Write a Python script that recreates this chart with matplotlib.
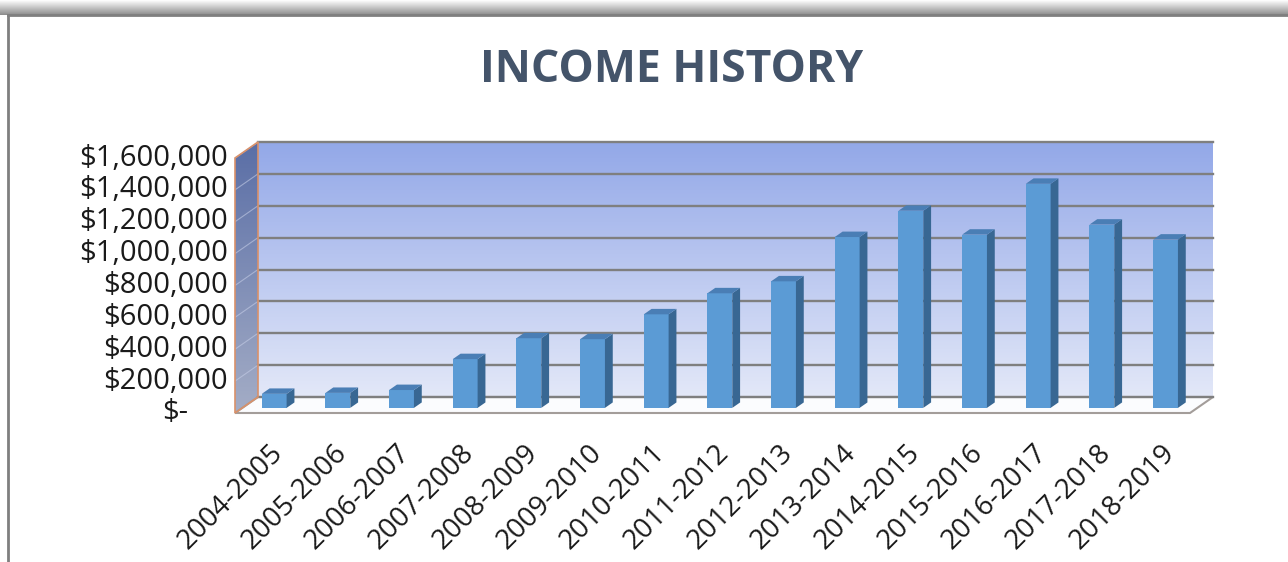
import matplotlib
matplotlib.use('Agg')
import numpy as np
import matplotlib.pyplot as plt
import matplotlib.transforms as mtransforms
from matplotlib.patches import Polygon
from matplotlib.colors import LinearSegmentedColormap

# данные
years = ['2004-2005', '2005-2006', '2006-2007', '2007-2008', '2008-2009',
         '2009-2010', '2010-2011', '2011-2012', '2012-2013', '2013-2014',
         '2014-2015', '2015-2016', '2016-2017', '2017-2018', '2018-2019']
income = [88000, 94000, 112000, 306000, 437000, 431000, 587000, 719000,
          794000, 1072000, 1237000, 1087000, 1406000, 1150000, 1056000]
y_ticks = [0, 200000, 400000, 600000, 800000, 1000000, 1200000, 1400000, 1600000]
y_labels = ['$-', '$200,000', '$400,000', '$600,000', '$800,000',
            '$1,000,000', '$1,200,000', '$1,400,000', '$1,600,000']

plt.rcParams['font.family'] = ['Open Sans', 'DejaVu Sans']

W, H = 1288, 562
fig = plt.figure(figsize=(W / 100, H / 100), dpi=100)
fig.patch.set_facecolor('white')

# фон в пикселях
bg = fig.add_axes([0, 0, 1, 1])
bg.axis('off')

# ось с масштабом данных (задняя стенка)
ax = fig.add_axes([258 / W, (H - 397) / H, 955 / W, 255 / H])
ax.set_xlim(-0.5, len(years) - 0.5)
ax.set_ylim(0, 1600000)
ax.axis('off')

DX, DY = -23, -16   # смещение глубины (передний край)


def pt(x, y, d):
    X, Y = ax.transData.transform((x, y))
    return X + d * DX, Y + d * DY


x0, y0 = pt(-0.5, 0, 0)
x1, y1 = pt(len(years) - 0.5, 1600000, 0)

# рамка и тень сверху
shadow = np.linspace(0, 1, 50).reshape(-1, 1)
bg.imshow(shadow, extent=[0, W, H - 15, H], aspect='auto',
          cmap=LinearSegmentedColormap.from_list('sh', ['#8c8c8c', '#ffffff']),
          origin='lower', zorder=0)
bg.plot([8, W], [H - 15, H - 15], color='#7f7f7f', lw=2, zorder=1)
bg.plot([8, 8], [0, H - 15], color='#7f7f7f', lw=2, zorder=1)

# задняя стенка
grad = np.linspace(0, 1, 256).reshape(-1, 1)
wall_cmap = LinearSegmentedColormap.from_list('wall', ['#e3e8f8', '#93a8e8'])
bg.imshow(grad, extent=[x0, x1, y0, y1], aspect='auto', cmap=wall_cmap,
          origin='lower', zorder=1)

# левая стенка
lw_poly = Polygon([pt(-0.5, 0, 0), pt(-0.5, 1600000, 0), pt(-0.5, 1600000, 1),
                   pt(-0.5, 0, 1)], closed=True, facecolor='none',
                  edgecolor='#d9916a', lw=1.2, zorder=3)
bg.add_patch(lw_poly)
side_cmap = LinearSegmentedColormap.from_list('side', ['#a4adc6', '#5a6ea6'])
im = bg.imshow(grad, extent=[x0 + DX, x0, y0 + DY, y1], aspect='auto',
               cmap=side_cmap, origin='lower', zorder=2)
im.set_clip_path(lw_poly)

# пол
floor = Polygon([pt(-0.5, 0, 0), pt(len(years) - 0.5, 0, 0),
                 pt(len(years) - 0.5, 0, 1), pt(-0.5, 0, 1)], closed=True,
                facecolor='#fbfcfe', edgecolor='#a39d9a', lw=1.5, zorder=2)
bg.add_patch(floor)

# линии сетки
for t in y_ticks:
    a = pt(-0.5, t, 0)
    b = pt(len(years) - 0.5, t, 0)
    bg.plot([a[0], b[0]], [a[1], b[1]], color='#7f7f7f', lw=1.7, zorder=2.5)
    if t > 0:
        c = pt(-0.5, t, 1)
        bg.plot([c[0], a[0]], [c[1], a[1]], color='#c5cde6', lw=0.8,
                alpha=0.6, zorder=2.6)

bg.set_xlim(0, W)
bg.set_ylim(0, H)

# столбцы
w = 0.39
df, db = 0.68, 0.34
front = mtransforms.offset_copy(ax.transData, fig=fig, x=df * DX, y=df * DY,
                                units='dots')
x = np.arange(len(years))
ax.bar(x, income, width=w, color='#5b9bd5', transform=front, clip_on=False,
       zorder=3)
for i, v in enumerate(income):
    side = [pt(i + w / 2, 0, df), pt(i + w / 2, v, df), pt(i + w / 2, v, db),
            pt(i + w / 2, 0, db)]
    top = [pt(i - w / 2, v, df), pt(i + w / 2, v, df), pt(i + w / 2, v, db),
           pt(i - w / 2, v, db)]
    ax.add_patch(Polygon(side, closed=True, facecolor='#386793',
                         transform=mtransforms.IdentityTransform(),
                         clip_on=False, zorder=3))
    ax.add_patch(Polygon(top, closed=True, facecolor='#4a7eb5',
                         transform=mtransforms.IdentityTransform(),
                         clip_on=False, zorder=3))

# подписи оси Y
for t, lab in zip(y_ticks, y_labels):
    X, Y = pt(-0.5, t, 1)
    shift = 7 if t > 0 else 47
    bg.text(X - shift, Y, lab, ha='right', va='center', fontsize=21,
            color='#1a1a1a', zorder=5)

# подписи оси X
for i, lab in enumerate(years):
    X, Y = pt(i, 0, df)
    bg.text(X - 5, Y - 31, lab, rotation=45, rotation_mode='anchor',
            ha='right', va='top', fontsize=20, color='#1a1a1a', zorder=5)

fig.text(672 / W, 1 - 70 / H, 'INCOME HISTORY', ha='center', va='center',
         fontsize=32, fontweight='bold', color='#44546a')

plt.savefig('out.png', dpi=100)
plt.close()
